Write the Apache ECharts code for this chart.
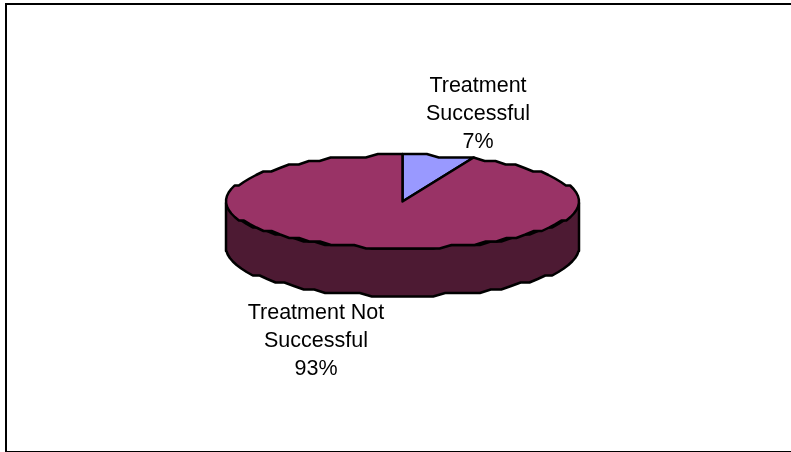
<!DOCTYPE html>
<html><head><meta charset="utf-8">
<style>html,body{margin:0;padding:0;background:#fff}#c{width:791px;height:452px}</style>
<script src="https://cdn.jsdelivr.net/npm/echarts@6/dist/echarts.min.js"></script>
</head><body><div id="c"></div>
<script>
var categories = ['Treatment\nSuccessful', 'Treatment Not\nSuccessful'];
var values = [6.6, 93.4];
var topColors = ['#9999ff', '#993366'];
var sideColors = ['#4d4d80', '#4d1a33'];

var total = values.reduce(function(a,b){return a+b;},0);
var cx = 402.5, cy = 201.5, rx = 176.5, ry = 46.5, depth = 48, STEP = 4, GRID = 3.5;
var labelPos = [[478,114],[316,341]];
var textStyle = {fontFamily:'"Liberation Sans",Arial,sans-serif', fontSize:21.5, lineHeight:28, fill:'#000', align:'center', verticalAlign:'middle'};

function pt(deg, dy){
  var t = deg*Math.PI/180;
  return [cx + rx*Math.sin(t), Math.round((cy - ry*Math.cos(t))/GRID)*GRID + (dy||0)];
}
function arc(a0, a1, dy){
  var p = [], n = Math.max(1, Math.round((a1-a0)/STEP));
  for (var i=0;i<=n;i++) p.push(pt(a0+(a1-a0)*i/n, dy));
  return p;
}
function renderItem(params, api){
  var i = params.dataIndex, start = 0;
  for (var k=0;k<i;k++) start += values[k];
  var a0 = start/total*360, a1 = (start+api.value(0))/total*360;
  var kids = [];
  var s0 = Math.max(a0,90), s1 = Math.min(a1,270);
  if (s1 > s0) {
    kids.push({type:'polygon', shape:{points: arc(s0,s1,0).concat(arc(s0,s1,depth).reverse())},
      style:{fill:sideColors[i], stroke:'#000', lineWidth:2.5, lineJoin:'round'}});
  }
  kids.push({type:'polygon', z2:5, shape:{points:[[cx,cy]].concat(arc(a0,a1,0))},
    style:{fill:topColors[i], stroke:'#000', lineWidth:2.5, lineJoin:'round'}});
  kids.push({type:'text', z2:10, x:labelPos[i][0], y:labelPos[i][1],
    style:Object.assign({text: categories[i]+'\n'+Math.round(api.value(0)/total*100)+'%'}, textStyle)});
  return {type:'group', children:kids};
}
var chart = echarts.init(document.getElementById('c'));
chart.setOption({
  animation:false,
  graphic:[{type:'rect', z:-1, shape:{x:6,y:4,width:790,height:448}, style:{fill:'#fff',stroke:'#000',lineWidth:2}}],
  series:[{type:'custom', coordinateSystem:'none', renderItem:renderItem,
    data: values.map(function(v,i){return {name:categories[i], value:[v]};})}]
});
</script></body></html>
